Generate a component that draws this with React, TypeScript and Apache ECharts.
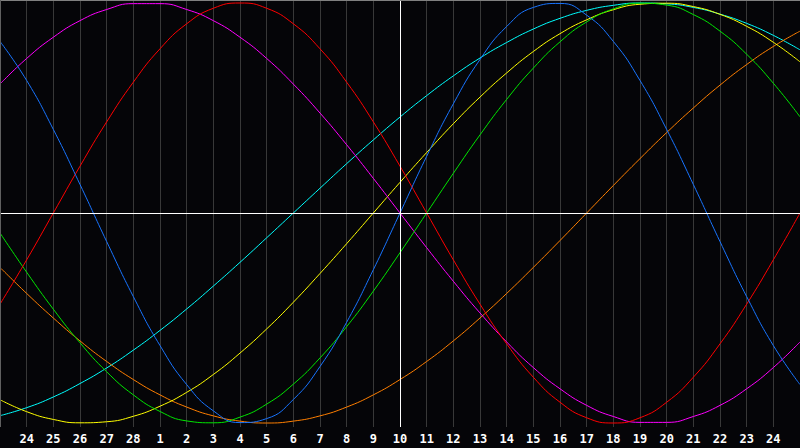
import React, { useEffect, useRef } from "react";
import * as echarts from "echarts";

const dayLabels = ["23","24","25","26","27","28","1","2","3","4","5","6","7","8","9","10","11","12","13","14","15","16","17","18","19","20","21","22","23","24","25"];

const physical23 = [0.817,0.631,0.398,0.136,-0.136,-0.398,-0.631,-0.817,-0.942,-0.998,-0.979,-0.888,-0.731,-0.520,-0.270,0,0.270,0.520,0.731,0.888,0.979,0.998,0.942,0.817,0.631,0.398,0.136,-0.136,-0.398,-0.631,-0.817];
const emotional28 = [-0.434,-0.223,0,0.223,0.434,0.623,0.782,0.901,0.975,1,0.975,0.901,0.782,0.623,0.434,0.223,0,-0.223,-0.434,-0.623,-0.782,-0.901,-0.975,-1,-0.975,-0.901,-0.782,-0.623,-0.434,-0.223,0];
const intellectual33 = [-0.095,-0.282,-0.458,-0.618,-0.756,-0.866,-0.945,-0.990,-0.999,-0.972,-0.910,-0.815,-0.690,-0.541,-0.372,-0.189,0,0.189,0.372,0.541,0.690,0.815,0.910,0.972,0.999,0.990,0.945,0.866,0.756,0.618,0.458];
const intuitive38 = [0.614,0.736,0.837,0.916,0.969,0.997,0.997,0.969,0.916,0.837,0.736,0.614,0.476,0.325,0.165,0,-0.165,-0.325,-0.476,-0.614,-0.736,-0.837,-0.916,-0.969,-0.997,-0.997,-0.969,-0.916,-0.837,-0.736,-0.614];
const aesthetic43 = [-0.889,-0.946,-0.983,-0.999,-0.994,-0.968,-0.920,-0.854,-0.769,-0.667,-0.552,-0.425,-0.288,-0.146,0,0.146,0.288,0.425,0.552,0.667,0.769,0.854,0.920,0.968,0.994,0.999,0.983,0.946,0.889,0.813,0.720];
const awareness48 = [-0.259,-0.383,-0.5,-0.609,-0.707,-0.793,-0.866,-0.924,-0.966,-0.991,-1,-0.991,-0.966,-0.924,-0.866,-0.793,-0.707,-0.609,-0.5,-0.383,-0.259,-0.131,0,0.131,0.259,0.383,0.5,0.609,0.707,0.793,0.866];
const spiritual53 = [-0.965,-0.927,-0.876,-0.812,-0.738,-0.653,-0.559,-0.457,-0.348,-0.235,-0.118,0,0.118,0.235,0.348,0.457,0.559,0.653,0.738,0.812,0.876,0.927,0.965,0.989,1.0,0.996,0.979,0.947,0.903,0.846,0.777];

const todayIndex = 15;

const curves = [
  { name: "spiritual", data: spiritual53, color: "#00ffff" },
  { name: "awareness", data: awareness48, color: "#ff7f00" },
  { name: "aesthetic", data: aesthetic43, color: "#ffff00" },
  { name: "intuitive", data: intuitive38, color: "#ff00ff" },
  { name: "intellectual", data: intellectual33, color: "#00e600" },
  { name: "emotional", data: emotional28, color: "#ff0000" },
  { name: "physical", data: physical23, color: "#1874ff" },
];

export default function App() {
  const ref = useRef<HTMLDivElement>(null);
  useEffect(() => {
    if (!ref.current) return;
    const chart = echarts.init(ref.current, null, { renderer: "svg" });
    const series: any[] = curves.map((c, k) => ({
      name: c.name,
      type: "line",
      data: c.data.map((v, i) => [i, v]),
      smooth: 0.5,
      showSymbol: false,
      symbol: "none",
      lineStyle: { color: c.color, width: 1 },
      itemStyle: { color: c.color },
      z: 3,
      markLine: k === 0 ? {
        silent: true,
        symbol: "none",
        label: { show: false },
        lineStyle: { color: "#ffffff", width: 1, type: "solid" },
        data: [{ xAxis: todayIndex }, { yAxis: 0 }],
      } : undefined,
    }));
    chart.setOption({
      animation: false,
      backgroundColor: "#050508",
      grid: { left: 0, right: 0, top: 0, bottom: 21, containLabel: false },
      xAxis: {
        type: "value",
        min: 0,
        max: 30,
        interval: 1,
        axisLine: { show: true, lineStyle: { color: "#a0a0a0", width: 1 } },
        axisTick: { show: false },
        splitLine: { show: true, lineStyle: { color: "#383838", width: 1 } },
        axisLabel: {
          show: true,
          showMinLabel: false,
          showMaxLabel: false,
          margin: 6,
          color: "#ffffff",
          fontWeight: "bold",
          fontSize: 12,
          fontFamily: "DejaVu Sans Mono",
          formatter: (v: number) => dayLabels[Math.round(v)] ?? "",
        },
      },
      yAxis: {
        type: "value",
        min: -1.019,
        max: 1.0143,
        axisLine: { show: false },
        axisTick: { show: false },
        axisLabel: { show: false },
        splitLine: { show: false },
      },
      graphic: [
        { type: "line", shape: { x1: 0, y1: 0.5, x2: 800, y2: 0.5 }, style: { stroke: "#808080", lineWidth: 1 }, z: 10 },
        { type: "line", shape: { x1: 0.5, y1: 0, x2: 0.5, y2: 427 }, style: { stroke: "#606060", lineWidth: 1 }, z: 10 },
      ],
      series,
    });
    return () => chart.dispose();
  }, []);
  return <div ref={ref} style={{ width: 800, height: 448, position: "absolute", left: 0, top: 0 }} />;
}
